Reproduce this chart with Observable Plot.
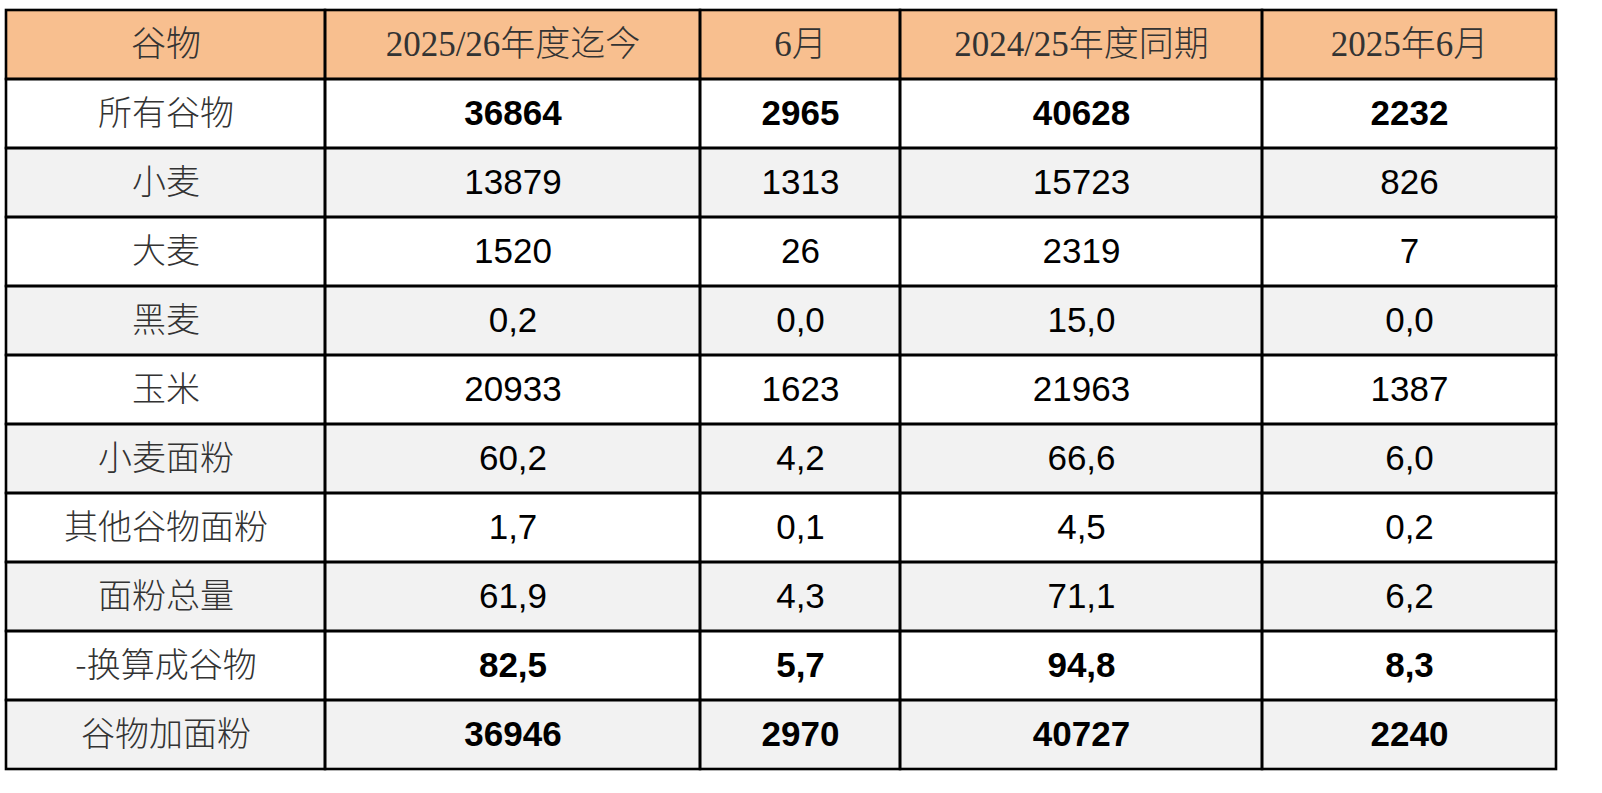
<!DOCTYPE html>
<html>
<head>
<meta charset="utf-8">
<script src="https://cdn.jsdelivr.net/npm/d3@7"></script>
<script src="https://cdn.jsdelivr.net/npm/@observablehq/plot@0.6"></script>
<style>
  html, body { margin: 0; padding: 0; background: #ffffff; overflow: hidden; }
  #chart svg { display: block; }
</style>
</head>
<body>
<div id="chart"></div>
<script>
// ---- data ----
const headers = ["谷物", "2025/26年度迄今", "6月", "2024/25年度同期", "2025年6月"];
const categories = ["所有谷物", "小麦", "大麦", "黑麦", "玉米", "小麦面粉", "其他谷物面粉", "面粉总量", "-换算成谷物", "谷物加面粉"];
const season2526ToDate = [36864, 13879, 1520, 0.2, 20933, 60.2, 1.7, 61.9, 82.5, 36946];
const june = [2965, 1313, 26, 0.0, 1623, 4.2, 0.1, 4.3, 5.7, 2970];
const season2425SamePeriod = [40628, 15723, 2319, 15.0, 21963, 66.6, 4.5, 71.1, 94.8, 40727];
const june2025 = [2232, 826, 7, 0.0, 1387, 6.0, 0.2, 6.2, 8.3, 2240];
const decimals = [0, 0, 0, 1, 0, 1, 1, 1, 1, 0];
const boldRows = ["所有谷物", "-换算成谷物", "谷物加面粉"];

// ---- layout / style ----
const colWidths = [319, 375, 200, 362, 294];
const edges = [0];
colWidths.forEach(w => edges.push(edges[edges.length - 1] + w));
const mid = j => (edges[j] + edges[j + 1]) / 2;
const rowKeys = ["__header__", ...categories];
const headerFill = "#F8BF8F";
const stripeFill = "#F2F2F2";
const series = [season2526ToDate, june, season2425SamePeriod, june2025];
const fmt = (v, d) => d ? v.toFixed(d).replace(".", ",") : String(v);

const cells = [];
rowKeys.forEach((r, i) => {
  colWidths.forEach((w, j) => {
    cells.push({
      row: r, x1: edges[j], x2: edges[j + 1],
      fill: i === 0 ? headerFill : (i % 2 === 0 ? stripeFill : "#ffffff")
    });
  });
});

const headerTexts = headers.map((h, j) => ({row: "__header__", x: mid(j), label: h}));
const labelTexts = categories.map(c => ({row: c, x: mid(0), label: c}));
const valueTexts = [];
categories.forEach((c, i) => {
  series.forEach((s, j) => {
    valueTexts.push({row: c, x: mid(j + 1), label: fmt(s[i], decimals[i]), bold: boldRows.includes(c)});
  });
});

const serifCJK = "'Liberation Serif', 'Noto Sans CJK SC', serif";
const sansCJK = "'Noto Sans CJK SC', sans-serif";
const numFont = "'Liberation Sans', Arial, sans-serif";

const chart = Plot.plot({
  width: 1602,
  height: 793,
  marginLeft: 6,
  marginRight: 46,
  marginTop: 6,
  marginBottom: 21,
  x: {domain: [0, edges[edges.length - 1]], axis: null},
  y: {domain: rowKeys, axis: null, padding: 0},
  color: {type: "identity"},
  marks: [
    Plot.barX(cells, {x1: "x1", x2: "x2", y: "row", fill: "fill", insetTop: 0, insetBottom: 0}),
    Plot.barX(cells, {x1: "x1", x2: "x2", y: "row", fill: "none", stroke: "#000000", strokeWidth: 2.6, insetTop: 0, insetBottom: 0}),
    Plot.text(headerTexts, {x: "x", y: "row", text: "label", fontFamily: serifCJK, fontWeight: 300, fontSize: 35, fill: "#333333"}),
    Plot.text(labelTexts, {x: "x", y: "row", text: "label", fontFamily: sansCJK, fontWeight: 300, fontSize: 34, fill: "#333333"}),
    Plot.text(valueTexts.filter(d => !d.bold), {x: "x", y: "row", text: "label", fontFamily: numFont, fontSize: 35, fill: "#000000"}),
    Plot.text(valueTexts.filter(d => d.bold), {x: "x", y: "row", text: "label", fontFamily: numFont, fontWeight: "bold", fontSize: 35, fill: "#000000"})
  ]
});
document.getElementById("chart").appendChild(chart);
</script>
</body>
</html>
